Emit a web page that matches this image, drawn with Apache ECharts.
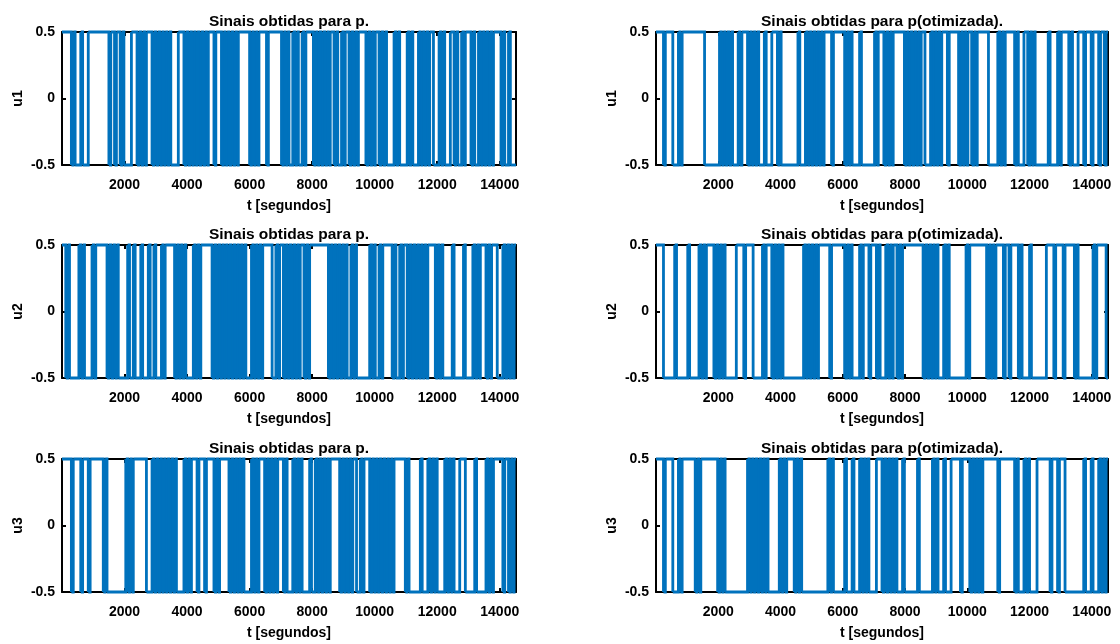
<!DOCTYPE html>
<html>
<head>
<meta charset="utf-8">
<title>Sinais obtidas</title>
<script src="https://cdn.jsdelivr.net/npm/echarts@6/dist/echarts.min.js"></script>
<style>
  html, body { margin: 0; padding: 0; background: #fff; }
  #chart { width: 1120px; height: 644px; }
</style>
</head>
<body>
<div id="chart"></div>
<script>
// Binary excitation signals (levels +0.5 / -0.5), stored as run lengths:
// each entry is how many sample periods the signal holds before switching.
const Ts = 60;          // sample period [s]
const tEnd = 14520;     // signal length [s]
const startLevel = 0.5;

const u1p = [5,1,1,3,1,3,11,1,2,1,2,1,1,4,3,
  1,1,1,1,1, 3, 1,1,1,1,1,1,1,1,1,1, 4,3,
  1,1,1,1,1,1,1,1,1,1,1,1,1, 3,1,3,
  1,1,1,1,1,1,1,1,1, 6, 1,1,1,1,1, 4,1,7, 1,1,1,1, 2, 1,1,1, 2, 1,1, 4,
  1,1,1,1,1,1,1,1,1, 2,1,1,2,1,1,2, 1,1,1,1,1, 4, 1,1,1,1,1, 2, 1,1,1,1, 4,
  1,1,1, 4, 1,1,1, 3, 1,1,1,1,1,1, 2,3, 1,1,1, 3,2, 1,1, 2, 1,1, 3, 1,1, 2,
  1,1,1,1,1,1,1,1, 4, 1,1, 2, 1, 3];
const u1o = [4,1,4,3,1,1,12,8,1,1,1,1,1,1,1,3,1,1,3,1,1,1,1,1,1,3,1,3,3,1,1,9,1,3,
  1,1,1,1,1,1,1,1,1,1,4,1,6,1,1,1,1,4,1,7,1,1,3,1,1,1,1,1,6,1,1,1,1,1,1,1,1,1,
  2,3,1,1,1,1,1,1,3,1,5,1,1,1,1,1,2,1,1,1,6,5,1,1,1,1,5,1,1,3,2,1,1,1,1,7,1,4,
  1,1,4,1,1,3,3,1,3,1,3,1,2,1,1];
const u2p = [2,1,1,5,1,1,1,4,1,1,6,1,1,1,1,1,1,5,1,2,1,3,1,3,1,2,1,3,1,1,5,
  1,1,1,1,1,1,4,1,1,1,1,6,1,1,1,1,1,1,1,1,1,1,1,1,1,1,1,1,1,1,3,1,1,1,1,1,1,5,2,
  1,1,2,1,1,1,1,1,1,1,1,1,2,1,1,1,10,1,1,1,1,1,1,1,1,1,1,2,1,1,1,7,1,1,1,2,1,1,5,
  1,1,2,1,1,2,1,1,1,1,1,1,1,1,1,1,1,4,1,1,1,1,5,1,5,1,4,1,1,1,1,3,1,1,1,3,3,
  1,1,1,1,1,1,1];
const u2o = [4,6,1,6,1,5,1,1,1,1,4,1,1,1,1,1,1,6,4,1,4,5,1,1,3,1,1,1,1,1,1,11,
  1,1,1,1,1,1,1,1,6,1,7,1,1,1,1,4,1,1,3,1,3,1,1,3,1,1,1,1,2,1,1,1,11,
  1,1,1,1,1,1,1,1,3,1,1,1,9,1,1,9,1,1,1,1,1,4,1,2,1,4,1,1,4,1,8,4,1,4,1,5,1,1,8,
  1,1,5,1];
const u3p = [5,1,4,1,3,1,7,1,1,10,1,1,1,1,7,3,1,1,1,1,1,1,1,1,1,1,1,1,1,4,1,1,1,1,
  3,1,3,1,4,1,1,1,5,1,1,1,1,1,1,1,1,4,1,1,1,1,3,1,1,1,1,1,1,1,3,1,1,3,1,1,1,1,1,
  4,1,2,1,1,1,1,1,1,1,1,5,1,1,1,1,1,1,1,2,2,1,1,3,1,1,1,1,1,1,1,1,1,1,1,1,1,6,
  1,1,6,1,3,1,1,1,1,1,4,1,1,1,1,1,3,3,5,1,5,1,1,1,1,5,1,2,1,1,1,1];
const u3o = [4,1,4,3,1,1,7,1,1,1,9,1,1,1,1,12,1,1,1,1,1,1,1,1,1,1,1,6,1,1,1,1,4,
  1,1,1,1,14,1,1,1,6,1,3,1,3,1,1,1,1,1,4,3,1,1,1,1,1,1,1,1,3,1,7,1,7,1,1,1,3,1,3,
  5,1,4,1,1,1,1,1,1,1,8,1,8,1,1,3,1,1,1,4,7,1,3,1,3,10,1,3,1,3,1,1,1,1,1];

const signals = [[u1p, u1o], [u2p, u2o], [u3p, u3o]];
const yNames = ['u1', 'u2', 'u3'];
const titles = ['Sinais obtidas para p.', 'Sinais obtidas para p(otimizada).'];
const xName = 't [segundos]';
const xStep = 2000;
const yStep = 0.5;

// One record per hold: [start time, end time, level, switches afterwards]
function holdSegments(runs, level) {
  const segs = [];
  let t = 0;
  runs.forEach((n, i) => {
    segs.push([t, t + n * Ts, level, i < runs.length - 1 ? 1 : 0]);
    t += n * Ts;
    level = -level;
  });
  return segs;
}

const FONT = '"Liberation Sans", Arial, Helvetica, sans-serif';
const colLeft = [62, 656];
const colWidth = [454, 452];
const rowTop = [32, 245, 459];
const rowHeight = 133;
const BLUE = '#0072BD';
const LINE_W = 2.8;

// Hold drawn horizontally, followed by the vertical switching edge.
function renderHold(params, api) {
  const lv = api.value(2);
  const a = api.coord([api.value(0), lv]);
  const b = api.coord([api.value(1), lv]);
  const pts = [a, b];
  if (api.value(3)) pts.push(api.coord([api.value(1), -lv]));
  return {
    type: 'polyline',
    shape: { points: pts },
    style: { stroke: BLUE, lineWidth: LINE_W, fill: null, lineJoin: 'miter', lineCap: 'butt' }
  };
}

const grids = [], xAxes = [], yAxes = [], series = [], titleList = [];
let idx = 0;
for (let r = 0; r < 3; r++) {
  for (let c = 0; c < 2; c++) {
    grids.push({ left: colLeft[c], top: rowTop[r], width: colWidth[c], height: rowHeight, containLabel: false });
    const axisLine = { show: true, onZero: false, lineStyle: { color: '#000', width: 2 } };
    const axisTick = { show: true, inside: true, length: 4, lineStyle: { color: '#000', width: 2 } };
    const labelStyle = { color: '#000', fontWeight: 'bold', fontSize: 14, fontFamily: FONT };
    xAxes.push({
      gridIndex: idx, type: 'value', min: 0, max: tEnd, interval: xStep,
      axisLine, axisTick, splitLine: { show: false },
      axisLabel: Object.assign({ margin: 13, showMinLabel: false, showMaxLabel: false,
        formatter: v => String(v) }, labelStyle),
      name: xName, nameLocation: 'middle', nameGap: 34,
      nameTextStyle: { color: '#000', fontWeight: 'bold', fontSize: 14, fontFamily: FONT }
    });
    xAxes.push({
      gridIndex: idx, type: 'value', position: 'top', min: 0, max: tEnd, interval: xStep,
      axisLine, axisTick, splitLine: { show: false }, axisLabel: { show: false }
    });
    yAxes.push({
      gridIndex: idx, type: 'value', min: -0.5, max: 0.5, interval: yStep,
      axisLine, axisTick, splitLine: { show: false },
      axisLabel: Object.assign({ margin: 7 }, labelStyle),
      name: yNames[r], nameLocation: 'middle', nameGap: 37,
      nameTextStyle: { color: '#000', fontWeight: 'bold', fontSize: 14, fontFamily: FONT }
    });
    yAxes.push({
      gridIndex: idx, type: 'value', position: 'right', min: -0.5, max: 0.5, interval: yStep,
      axisLine, axisTick, splitLine: { show: false }, axisLabel: { show: false }
    });
    series.push({
      type: 'custom', coordinateSystem: 'cartesian2d',
      xAxisIndex: 2 * idx, yAxisIndex: 2 * idx,
      data: holdSegments(signals[r][c], startLevel),
      encode: { x: [0, 1], y: 2 },
      renderItem: renderHold, animation: false, silent: true, z: 3
    });
    titleList.push({
      text: titles[c], left: colLeft[c] + colWidth[c] / 2, top: rowTop[r] - 18,
      textAlign: 'center', padding: 0,
      textStyle: { color: '#000', fontWeight: 'bold', fontSize: 15.5, fontFamily: FONT }
    });
    idx++;
  }
}

const chart = echarts.init(document.getElementById('chart'), null, { renderer: 'canvas' });
chart.setOption({
  animation: false,
  backgroundColor: '#fff',
  title: titleList,
  grid: grids,
  xAxis: xAxes,
  yAxis: yAxes,
  series: series
});
</script>
</body>
</html>
